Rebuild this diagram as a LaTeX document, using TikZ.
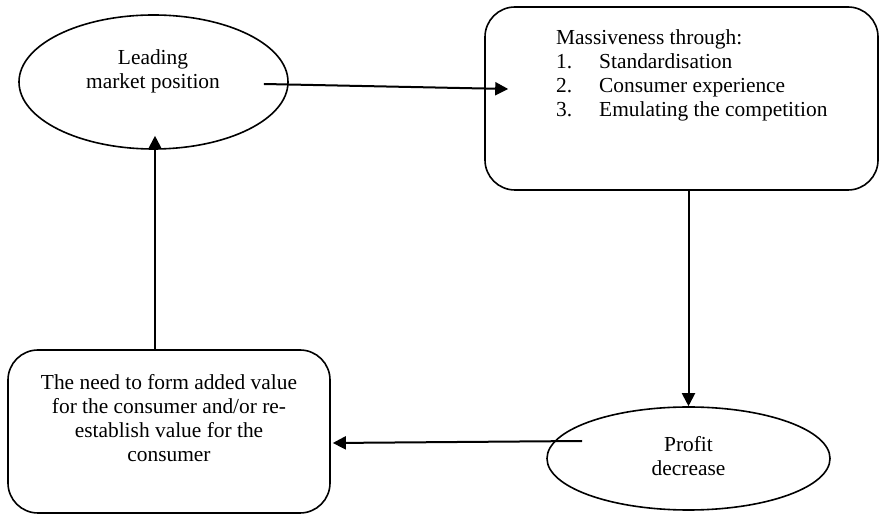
\documentclass[tikz,border=0pt]{standalone}
\usepackage{fontspec}
\setmainfont{Liberation Serif}
\usetikzlibrary{shapes.geometric,arrows.meta}
\begin{document}
\begin{tikzpicture}[x=1pt,y=1pt,
  shapeline/.style={draw=black,line width=1.6pt},
  oval/.style={shapeline,ellipse,inner sep=0pt},
  roundbox/.style={shapeline,rectangle,rounded corners=30pt,inner sep=0pt},
  txt/.style={font=\fontsize{21.4}{24}\selectfont,inner sep=0pt,anchor=base},
  txtl/.style={txt,anchor=base west},
  arr/.style={line width=2pt,-{Triangle[length=13pt,width=13pt]}}]
\useasboundingbox (0,0) rectangle (880,516);
% shapes
\node[oval,minimum width=269pt,minimum height=134pt] (e1) at (153.5,434) {};
\node[roundbox,minimum width=393pt,minimum height=183pt] (r1) at (681.5,417.5) {};
\node[roundbox,minimum width=322pt,minimum height=163pt] (r2) at (169,84.5) {};
\node[oval,minimum width=283pt,minimum height=103pt] (e2) at (688.5,57.5) {};
% texts
\node[txt] (e1a) at (153,451) {Leading};
\node[txt] (e1b) at (153,427) {market position};
\node[txtl] (r1a) at (556,471) {Massiveness through:};
\node[txtl] (r1n1) at (556,447) {1.};
\node[txtl] (r1t1) at (599,447) {Standardisation};
\node[txtl] (r1n2) at (556,423) {2.};
\node[txtl] (r1t2) at (599,423) {Consumer experience};
\node[txtl] (r1n3) at (556,399) {3.};
\node[txtl] (r1t3) at (599,399) {Emulating the competition};
\node[txt] (r2a) at (169,126) {The need to form added value};
\node[txt] (r2b) at (169,102) {for the consumer and/or re-};
\node[txt] (r2c) at (169,78) {establish value for the};
\node[txt] (r2d) at (169,54) {consumer};
\node[txt] (e2a) at (688.5,64) {Profit};
\node[txt] (e2b) at (688.5,40) {decrease};
% connectors
\draw[arr] ([shift={(-25,-2)}]e1.east) -- ([shift={(24,9.5)}]r1.west);
\draw[arr] (r1.south -| e2.north) -- (e2.north);
\draw[arr] ([shift={(36,17.5)}]e2.west) -- ([shift={(2,-11.5)}]r2.east);
\draw[arr] ([shift={(-14,0)}]r2.north) -- ([shift={(1.5,14)}]e1.south);
\end{tikzpicture}
\end{document}
